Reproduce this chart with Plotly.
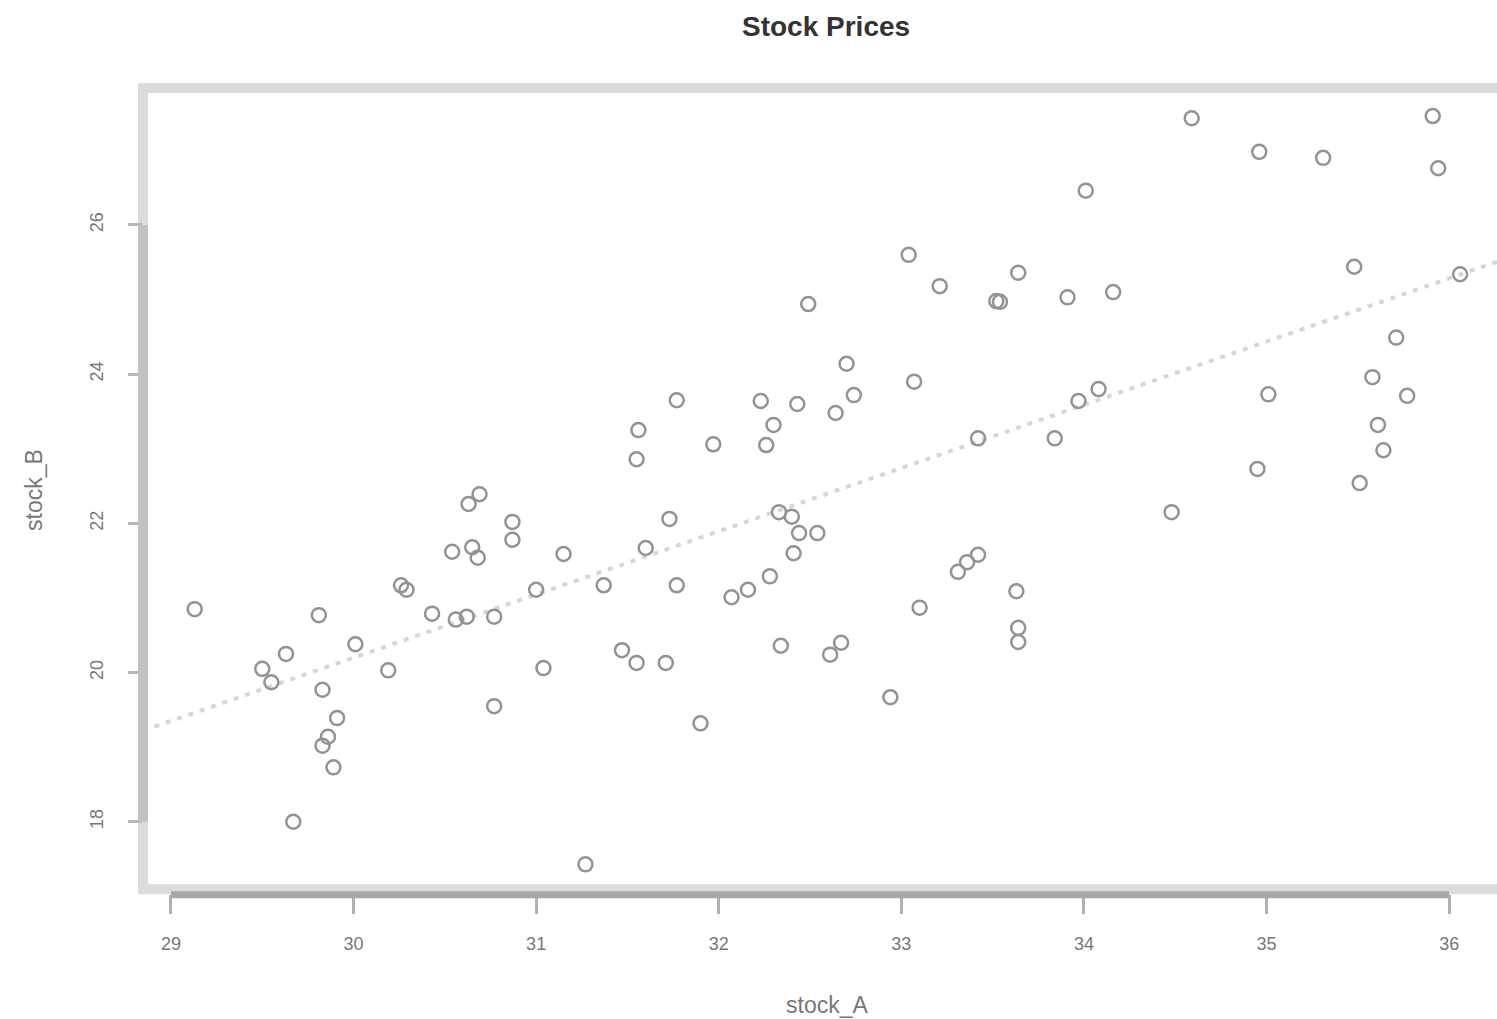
import numpy as np
import plotly.graph_objects as go

title = "Stock Prices"
x_label = "stock_A"
y_label = "stock_B"

stock_A = [29.13, 29.50, 29.55, 29.63, 29.67, 29.81, 29.83, 29.83, 29.86, 29.91,
           29.89, 30.01, 30.19, 30.26, 30.29, 30.43, 30.56, 30.62, 30.54, 30.65,
           30.68, 30.63, 30.69, 30.77, 30.77, 30.87, 30.87, 31.00, 31.04, 31.15,
           31.27, 31.37, 31.47, 31.55, 31.55, 31.56, 31.60, 31.71, 31.73, 31.77,
           31.77, 31.90, 31.97, 32.07, 32.16, 32.23, 32.26, 32.30, 32.28, 32.33,
           32.34, 32.40, 32.41, 32.43, 32.44, 32.49, 32.54, 32.64, 32.61, 32.67,
           32.70, 32.74, 32.94, 33.04, 33.07, 33.10, 33.21, 33.31, 33.36, 33.42,
           33.42, 33.52, 33.54, 33.64, 33.63, 33.64, 33.64, 33.84, 33.91, 33.97,
           34.01, 34.08, 34.16, 34.48, 34.59, 34.95, 34.96, 35.01, 35.31, 35.48,
           35.51, 35.58, 35.61, 35.64, 35.71, 35.77, 35.91, 35.94, 36.06]
stock_B = [20.85, 20.05, 19.87, 20.25, 18.00, 20.77, 19.77, 19.02, 19.14, 19.39,
           18.73, 20.38, 20.03, 21.17, 21.11, 20.79, 20.71, 20.75, 21.62, 21.68,
           21.54, 22.26, 22.39, 20.75, 19.55, 22.02, 21.78, 21.11, 20.06, 21.59,
           17.43, 21.17, 20.30, 20.13, 22.86, 23.25, 21.67, 20.13, 22.06, 23.65,
           21.17, 19.32, 23.06, 21.01, 21.11, 23.64, 23.05, 23.32, 21.29, 22.15,
           20.36, 22.09, 21.60, 23.60, 21.87, 24.94, 21.87, 23.48, 20.24, 20.40,
           24.14, 23.72, 19.67, 25.60, 23.90, 20.87, 25.18, 21.35, 21.48, 21.58,
           23.14, 24.98, 24.97, 25.36, 21.09, 20.60, 20.41, 23.14, 25.03, 23.64,
           26.46, 23.80, 25.10, 22.15, 27.43, 22.73, 26.98, 23.73, 26.90, 25.44,
           22.54, 23.96, 23.32, 22.98, 24.49, 23.71, 27.46, 26.76, 25.34]
x_ticks = [29, 30, 31, 32, 33, 34, 35, 36]
y_ticks = [18, 20, 22, 24, 26]

x_range = [28.847, 36.262]
y_range = [17.032, 27.836]

slope, intercept = np.polyfit(stock_A, stock_B, 1)
line_x = np.array(x_range)
line_y = intercept + slope * line_x

fig = go.Figure()
fig.add_trace(go.Scatter(
    x=line_x, y=line_y, mode="lines",
    line=dict(color="#d6d6d6", width=4, dash="5px,7px"),
    hoverinfo="skip", showlegend=False))
fig.add_trace(go.Scatter(
    x=stock_A, y=stock_B, mode="markers",
    marker=dict(symbol="circle-open", size=14, color="#939393",
                line=dict(width=2.5, color="#939393")),
    showlegend=False))

W, H = 1497, 1019
ml, mt, mb = 143, 88, 125

FONT = "Liberation Sans, Arial, sans-serif"
tickfont = dict(family=FONT, size=18, color="#777777")
fig.update_layout(
    width=W, height=H,
    margin=dict(l=ml, r=0, t=mt, b=mb),
    paper_bgcolor="white", plot_bgcolor="white",
    xaxis=dict(range=x_range, tickvals=x_ticks, ticks="outside", ticklen=19,
               tickwidth=3, tickcolor="#b0b0b0", showgrid=False, zeroline=False,
               showline=False, tickfont=tickfont, ticklabelstandoff=14),
    yaxis=dict(range=y_range, tickvals=y_ticks, ticks="outside", ticklen=14,
               tickwidth=3, tickcolor="#b8b8b8", showgrid=False, zeroline=False,
               showline=False, tickfont=tickfont, tickangle=-90,
               ticklabelstandoff=18),
)

# plot box (light), right edge lies outside the visible page
fig.add_shape(type="rect", xref="paper", yref="paper", x0=0, x1=1.03, y0=0.006, y1=1.0,
              line=dict(color="#dcdcdc", width=10), layer="below")
# axis lines (darker), spanning the tick range
fig.add_shape(type="line", xref="x", yref="paper", x0=x_ticks[0], x1=x_ticks[-1],
              y0=-0.001, y1=-0.001, line=dict(color="#a8a8a8", width=7))
fig.add_shape(type="line", xref="paper", yref="y", x0=0, x1=0,
              y0=y_ticks[0], y1=y_ticks[-1], line=dict(color="#c2c2c2", width=10))

pw, ph = W - ml, H - mt - mb
def px(x):
    return (x - ml) / pw
def py(y):
    return (H - mb - y) / ph

fig.add_annotation(text="<b>" + title + "</b>", xref="paper", yref="paper",
                   x=px(826), y=py(27), xanchor="center", yanchor="middle", showarrow=False,
                   font=dict(family=FONT, size=28, color="#333333"))
fig.add_annotation(text=x_label, xref="paper", yref="paper", x=px(827), y=py(1005),
                   xanchor="center", yanchor="middle", showarrow=False,
                   font=dict(family=FONT, size=23, color="#777777"))
fig.add_annotation(text=y_label, xref="paper", yref="paper", x=px(34), y=py(490),
                   xanchor="center", yanchor="middle", showarrow=False, textangle=-90,
                   font=dict(family=FONT, size=23, color="#777777"))

fig.write_html("out.html")
